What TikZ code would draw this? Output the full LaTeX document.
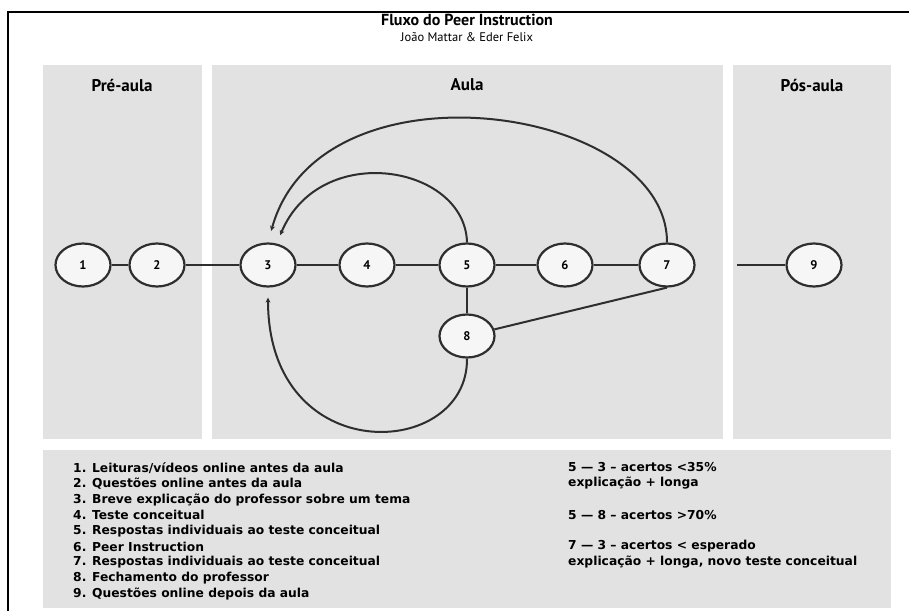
\documentclass[tikz,border=0pt]{standalone}
\usepackage{fontspec}
\setmainfont{PT Sans}
\newfontfamily\legendfont{DejaVu Sans}
\usetikzlibrary{arrows.meta,shapes.geometric}
\definecolor{panel}{HTML}{E2E2E2}
\definecolor{ink}{HTML}{2E2E2E}
\definecolor{nodefill}{HTML}{F6F6F6}
\begin{document}
\begin{tikzpicture}[x=1pt,y=-1pt,
  num/.style={ellipse,draw=ink,line width=2.2pt,fill=nodefill,minimum width=55pt,minimum height=43pt,inner sep=0pt,font=\bfseries\fontsize{12.5}{12.5}\selectfont},
  conn/.style={draw=ink,line width=2pt},
  arr/.style={conn,-{Stealth[length=5pt,width=5pt]}},
  head/.style={font=\bfseries\fontsize{17}{17}\selectfont,inner sep=0pt},
  item/.style={anchor=west,inner sep=0pt,font=\legendfont\bfseries\fontsize{12.3}{12.3}\selectfont},
]
\useasboundingbox (0,0) rectangle (909,610);
\fill[white] (0,0) rectangle (909,610);
% frame
\draw[line width=1.5pt,black] (8,620) -- (8,12) -- (920,12);
% title
\node[font=\bfseries\fontsize{16}{16}\selectfont,inner sep=0pt] (title) at (467,20) {Fluxo do Peer Instruction};
\node[font=\fontsize{12.5}{12.5}\selectfont,inner sep=0pt] (subtitle) at (467,37) {João Mattar \& Eder Felix};
% panels
\fill[panel] (43,65) rectangle (202,439);
\fill[panel] (212,65) rectangle (723,439);
\fill[panel] (733,65) rectangle (891,439);
\fill[panel] (43,450) rectangle (891,608);
\node[head] (pre) at (122,85) {Pré-aula};
\node[head] (aula) at (467,85) {Aula};
\node[head] (pos) at (812,85) {Pós-aula};
% nodes
\node[num] (n1) at (83,265) {1};
\node[num] (n2) at (157,265) {2};
\node[num] (n3) at (268,265) {3};
\node[num] (n4) at (367,265) {4};
\node[num] (n5) at (467,265) {5};
\node[num] (n6) at (565,265) {6};
\node[num] (n7) at (667,265) {7};
\node[num] (n9) at (814,265) {9};
\node[num] (n8) at (467,336) {8};
\coordinate (c9) at (737,265);
% straight connectors
\draw[conn] (n1) -- (n2);
\draw[conn] (n2) -- (n3);
\draw[conn] (n3) -- (n4);
\draw[conn] (n4) -- (n5);
\draw[conn] (n5) -- (n6);
\draw[conn] (n6) -- (n7);
\draw[conn] (n5) -- (n8);
\draw[conn] (n8) -- (n7.south);
\draw[conn] (c9) -- (n9);
% curved arrows
\draw[arr,shorten >=12pt] (n7.north) .. controls (667,105) and (320,55) .. (n3.north);
\draw[arr,shorten >=9pt] (n5.north) .. controls (465,165) and (320,140) .. (n3.68);
\draw[arr,shorten >=10pt] (n8.south) .. controls (468,460) and (268,470) .. (n3.south);
% legend
\node[item] (l1) at (73,468) {1. Leituras/vídeos online antes da aula};
\node[item] (l2) at (73,483.75) {2. Questões online antes da aula};
\node[item] (l3) at (73,499.5) {3. Breve explicação do professor sobre um tema};
\node[item] (l4) at (73,515.25) {4. Teste conceitual};
\node[item] (l5) at (73,531) {5. Respostas individuais ao teste conceitual};
\node[item] (l6) at (73,546.75) {6. Peer Instruction};
\node[item] (l7) at (73,562.5) {7. Respostas individuais ao teste conceitual};
\node[item] (l8) at (73,578.25) {8. Fechamento do professor};
\node[item] (l9) at (73,594) {9. Questões online depois da aula};
\node[item] (r1) at (568,467) {5 — 3 – acertos <35\%};
\node[item] (r2) at (568,483) {explicação + longa};
\node[item] (r3) at (568,515) {5 — 8 – acertos >70\%};
\node[item] (r4) at (568,546) {7 — 3 – acertos < esperado};
\node[item] (r5) at (568,562) {explicação + longa, novo teste conceitual};
\end{tikzpicture}
\end{document}
